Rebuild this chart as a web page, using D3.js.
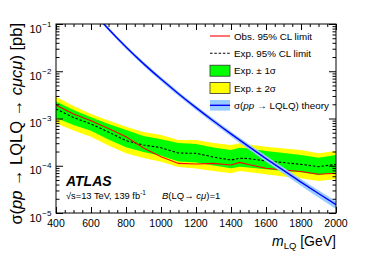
<!DOCTYPE html>
<html><head><meta charset="utf-8">
<script src="https://cdn.jsdelivr.net/npm/d3@7"></script>
<style>
html,body{margin:0;padding:0;background:#fff;}
svg{display:block;font-family:"Liberation Sans",Arial,Helvetica,sans-serif;}
</style></head>
<body><svg id="c" width="374" height="253"></svg>
<script>
// ---- data (pb) ----
const masses   = [400,500,600,700,800,900,1000,1100,1200,1300,1400,1450,1500,1600,1700,1800,1900,2000];
const expected = [1.59e-3,1.05e-3,7.65e-4,5.18e-4,3.39e-4,2.75e-4,2.41e-4,1.86e-4,1.83e-4,1.53e-4,1.32e-4,1.44e-4,1.42e-4,1.26e-4,1.17e-4,1.07e-4,9.55e-5,1.07e-4];
const observed = [1.93e-3,1.245e-3,8.98e-4,6.14e-4,4.12e-4,2.37e-4,1.55e-4,1.12e-4,1.09e-4,1.12e-4,1.04e-4,1.18e-4,1.06e-4,8.83e-5,8.13e-5,7.55e-5,6.59e-5,6.92e-5];
const exp1Up   = [2.29e-3,1.51e-3,1.06e-3,7.65e-4,5.71e-4,4.26e-4,3.63e-4,3.03e-4,2.89e-4,2.43e-4,2.15e-4,2.41e-4,2.32e-4,2.05e-4,1.86e-4,1.69e-4,1.48e-4,1.69e-4];
const exp1Dn   = [1.025e-3,7.29e-4,5.52e-4,3.59e-4,2.46e-4,1.95e-4,1.63e-4,1.23e-4,1.17e-4,1.01e-4,8.83e-5,9.55e-5,9.18e-5,8.41e-5,7.74e-5,7.27e-5,6.37e-5,7.27e-5];
const exp2Up   = [2.89e-3,1.84e-3,1.245e-3,9.07e-4,6.71e-4,5.18e-4,4.47e-4,3.51e-4,3.51e-4,3.03e-4,2.75e-4,2.99e-4,2.82e-4,2.53e-4,2.32e-4,2.15e-4,1.83e-4,2.05e-4];
const exp2Dn   = [7.91e-4,5.57e-4,4.12e-4,2.68e-4,1.83e-4,1.46e-4,1.22e-4,9.41e-5,8.75e-5,7.74e-5,6.92e-5,7.74e-5,7.37e-5,6.59e-5,5.92e-5,5.42e-5,4.75e-5,5.24e-5];

const thMasses = [600,700,800,900,1000,1100,1200,1300,1400,1500,1600,1700,1800,1900,2000];
const theory   = [0.205,0.0783,0.0326,0.0145,0.00683,0.00335,0.00170,8.87e-4,4.73e-4,2.57e-4,1.42e-4,7.96e-5,4.52e-5,2.59e-5,1.50e-5];
const theoryUp = [0.222,0.0850,0.0355,0.0159,0.00752,0.00370,0.00189,9.90e-4,5.31e-4,2.91e-4,1.62e-4,9.15e-5,5.25e-5,3.04e-5,1.78e-5];
const theoryDn = [0.188,0.0718,0.0297,0.0131,0.00614,0.00300,0.00151,7.84e-4,4.15e-4,2.23e-4,1.22e-4,6.77e-5,3.79e-5,2.14e-5,1.22e-5];

const xMajor = [400,600,800,1000,1200,1400,1600,1800,2000];
const yMajorExp = [-1,-2,-3,-4,-5];
const legendLabels = ["Obs. 95% CL limit","Exp. 95% CL limit","Exp. \u00b1 1\u03c3","Exp. \u00b1 2\u03c3","theory"];

// ---- layout ----
const L=56, R=336, T=24, B=213;
const svg=d3.select("#c");
const x=d3.scaleLinear().domain([400,2000]).range([L,R]);
const y=d3.scaleLog().domain([1e-5,1e-1]).range([B,T]);

svg.append("defs").append("clipPath").attr("id","clip")
  .append("rect").attr("x",L).attr("y",T).attr("width",R-L).attr("height",B-T);
const g=svg.append("g").attr("clip-path","url(#clip)");

const idx=d3.range(masses.length);
const thIdx=d3.range(thMasses.length);
const area=(lo,hi)=>d3.area().x(i=>x(masses[i])).y0(i=>y(lo[i])).y1(i=>y(hi[i]));
g.append("path").attr("d",area(exp2Dn,exp2Up)(idx)).attr("fill","#ffff00");
g.append("path").attr("d",area(exp1Dn,exp1Up)(idx)).attr("fill","#00ff00");
const line=(arr)=>d3.line().x(i=>x(masses[i])).y(i=>y(arr[i]));
g.append("path").attr("d",line(expected)(idx)).attr("fill","none").attr("stroke","#000").attr("stroke-width",1.1).attr("stroke-dasharray","2.5,1.8");
g.append("path").attr("d",line(observed)(idx)).attr("fill","none").attr("stroke","#ff0000").attr("stroke-width",1.1);
g.append("path").attr("d",d3.area().curve(d3.curveMonotoneX).x(i=>x(thMasses[i])).y0(i=>y(theoryDn[i])).y1(i=>y(theoryUp[i]))(thIdx))
  .attr("fill","#99ccff");
g.append("path").attr("d",d3.line().curve(d3.curveMonotoneX).x(i=>x(thMasses[i])).y(i=>y(theory[i]))(thIdx))
  .attr("fill","none").attr("stroke","#0000ff").attr("stroke-width",1.4);

// ---- axes ----
const xMinor=d3.range(400,2001,50).filter(v=>!xMajor.includes(v));
const yMinor=[];
for(let e=-5;e<-1;e++) for(let k=2;k<=9;k++) yMinor.push(k*Math.pow(10,e));
const yMajor=yMajorExp.map(e=>Math.pow(10,e));
function ax(gen, tr){ const a=svg.append("g").attr("transform",tr).call(gen); a.select(".domain").remove(); a.selectAll("line").attr("stroke","#000"); a.selectAll("text").remove(); return a;}
ax(d3.axisBottom(x).tickValues(xMajor).tickSize(-6),`translate(0,${B})`);
ax(d3.axisBottom(x).tickValues(xMinor).tickSize(-3),`translate(0,${B})`);
ax(d3.axisTop(x).tickValues(xMajor).tickSize(-6),`translate(0,${T})`);
ax(d3.axisTop(x).tickValues(xMinor).tickSize(-3),`translate(0,${T})`);
ax(d3.axisLeft(y).tickValues(yMajor).tickSize(-7),`translate(${L},0)`);
ax(d3.axisLeft(y).tickValues(yMinor).tickSize(-3.5),`translate(${L},0)`);
ax(d3.axisRight(y).tickValues(yMajor).tickSize(-7),`translate(${R},0)`);
ax(d3.axisRight(y).tickValues(yMinor).tickSize(-3.5),`translate(${R},0)`);
svg.append("rect").attr("x",L).attr("y",T).attr("width",R-L).attr("height",B-T).attr("fill","none").attr("stroke","#000").attr("stroke-width",1);

// tick labels
svg.append("g").selectAll("text").data(xMajor).join("text")
  .attr("x",d=>x(d)).attr("y",B+14).attr("text-anchor","middle").attr("font-size",10.5).text(d=>d);
const yl=svg.append("g").selectAll("text").data(yMajorExp).join("text")
  .attr("x",29.5).attr("y",e=>y(Math.pow(10,e))+8.5).attr("font-size",11);
yl.append("tspan").text("10");
yl.append("tspan").attr("font-size",8).attr("dy",-6).attr("dx",0.5).text(e=>"\u2212"+(-e));

// axis titles
const xt=svg.append("text").attr("x",R).attr("y",246).attr("text-anchor","end").attr("font-size",14);
xt.append("tspan").attr("font-style","italic").text("m");
xt.append("tspan").attr("font-size",9.5).attr("dy",3).text("LQ");
xt.append("tspan").attr("dy",-3).text(" [GeV]");

const yt=svg.append("text").attr("transform",`translate(21.5,${T-1}) rotate(-90)`).attr("text-anchor","end").attr("font-size",16.5);
yt.append("tspan").text("\u03c3(");
yt.append("tspan").attr("font-style","italic").text("pp");
yt.append("tspan").text(" \u2192 LQLQ \u2192 ");
yt.append("tspan").attr("font-style","italic").text("c\u03bcc\u03bc");
yt.append("tspan").text(") [pb]");

// ATLAS labels
svg.append("text").attr("x",66).attr("y",186).attr("font-size",14).attr("font-weight","bold").attr("font-style","italic").text("ATLAS");
const en=svg.append("text").attr("x",66).attr("y",198.5).attr("font-size",9.3);
en.append("tspan").text("\u221as=13 TeV, 139 fb");
en.append("tspan").attr("font-size",6.5).attr("dy",-3.5).text("-1");
const br=svg.append("text").attr("x",162).attr("y",198.5).attr("font-size",9.5);
br.append("tspan").attr("font-style","italic").text("B");
br.append("tspan").text("(LQ\u2192 ");
br.append("tspan").attr("font-style","italic").text("c\u03bc");
br.append("tspan").text(")=1");

// legend
const lx0=210, lx1=230, ly=[36,53.3,70.7,88,105.3];
const lg=svg.append("g");
lg.append("line").attr("x1",lx0).attr("x2",lx1).attr("y1",ly[0]).attr("y2",ly[0]).attr("stroke","#ff0000").attr("stroke-width",1.1);
lg.append("line").attr("x1",lx0).attr("x2",lx1).attr("y1",ly[1]).attr("y2",ly[1]).attr("stroke","#000").attr("stroke-width",1.1).attr("stroke-dasharray","2.5,1.8");
lg.append("rect").attr("x",lx0).attr("y",ly[2]-5.5).attr("width",20).attr("height",11).attr("fill","#00ff00").attr("stroke","#333").attr("stroke-width",0.8);
lg.append("rect").attr("x",lx0).attr("y",ly[3]-5.5).attr("width",20).attr("height",11).attr("fill","#ffff00").attr("stroke","#333").attr("stroke-width",0.8);
lg.append("rect").attr("x",lx0).attr("y",ly[4]-5.3).attr("width",20).attr("height",10.6).attr("fill","#99ccff");
lg.append("line").attr("x1",lx0).attr("x2",lx1).attr("y1",ly[4]).attr("y2",ly[4]).attr("stroke","#0000ff").attr("stroke-width",1.4);
for(let i=0;i<4;i++) lg.append("text").attr("x",234).attr("y",ly[i]+3.5).attr("font-size",9.8).text(legendLabels[i]);
const tl=lg.append("text").attr("x",234).attr("y",ly[4]+3.5).attr("font-size",9.8);
tl.append("tspan").text("\u03c3(");
tl.append("tspan").attr("font-style","italic").text("pp");
tl.append("tspan").text(" \u2192 LQLQ) "+legendLabels[4]);
</script></body></html>
